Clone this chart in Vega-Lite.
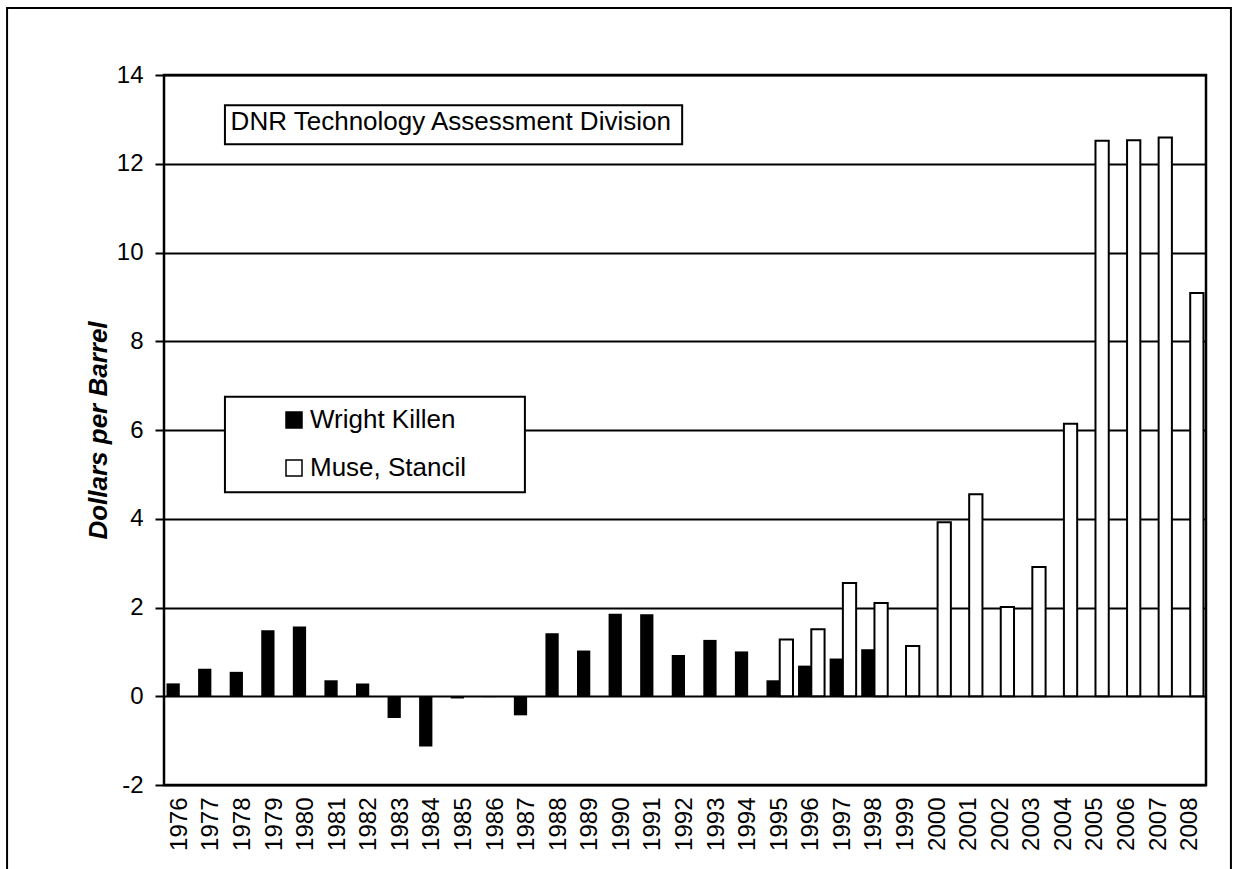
{
  "$schema": "https://vega.github.io/schema/vega-lite/v6.json",
  "width": 1042,
  "height": 710,
  "autosize": {"type": "none"},
  "padding": {"left": 164, "top": 75, "right": 27, "bottom": 84},
  "background": "white",
  "config": {
    "view": {"stroke": "black", "strokeWidth": 2.5},
    "font": "Liberation Sans",
    "text": {"font": "Liberation Sans"},
    "axisY": {"grid": true, "gridColor": "black", "gridWidth": 2, "gridOpacity": 1}
  },
  "resolve": {"scale": {"x": "independent"}},
  "layer": [
    {
      "data": {"values": [
        {"year": "1976", "series": "Wright Killen", "value": 0.29},
        {"year": "1977", "series": "Wright Killen", "value": 0.62},
        {"year": "1978", "series": "Wright Killen", "value": 0.55},
        {"year": "1979", "series": "Wright Killen", "value": 1.49},
        {"year": "1980", "series": "Wright Killen", "value": 1.57},
        {"year": "1981", "series": "Wright Killen", "value": 0.36},
        {"year": "1982", "series": "Wright Killen", "value": 0.29},
        {"year": "1983", "series": "Wright Killen", "value": -0.49},
        {"year": "1984", "series": "Wright Killen", "value": -1.13},
        {"year": "1985", "series": "Wright Killen", "value": -0.05},
        {"year": "1986", "series": "Wright Killen", "value": -0.02},
        {"year": "1987", "series": "Wright Killen", "value": -0.43},
        {"year": "1988", "series": "Wright Killen", "value": 1.42},
        {"year": "1989", "series": "Wright Killen", "value": 1.03},
        {"year": "1990", "series": "Wright Killen", "value": 1.86},
        {"year": "1991", "series": "Wright Killen", "value": 1.85},
        {"year": "1992", "series": "Wright Killen", "value": 0.93},
        {"year": "1993", "series": "Wright Killen", "value": 1.27},
        {"year": "1994", "series": "Wright Killen", "value": 1.01},
        {"year": "1995", "series": "Wright Killen", "value": 0.36},
        {"year": "1996", "series": "Wright Killen", "value": 0.69},
        {"year": "1997", "series": "Wright Killen", "value": 0.85},
        {"year": "1998", "series": "Wright Killen", "value": 1.06},
        {"year": "1995", "series": "Muse, Stancil", "value": 1.28},
        {"year": "1996", "series": "Muse, Stancil", "value": 1.51},
        {"year": "1997", "series": "Muse, Stancil", "value": 2.55},
        {"year": "1998", "series": "Muse, Stancil", "value": 2.1},
        {"year": "1999", "series": "Muse, Stancil", "value": 1.13},
        {"year": "2000", "series": "Muse, Stancil", "value": 3.92},
        {"year": "2001", "series": "Muse, Stancil", "value": 4.55},
        {"year": "2002", "series": "Muse, Stancil", "value": 2.01},
        {"year": "2003", "series": "Muse, Stancil", "value": 2.91},
        {"year": "2004", "series": "Muse, Stancil", "value": 6.14},
        {"year": "2005", "series": "Muse, Stancil", "value": 12.52},
        {"year": "2006", "series": "Muse, Stancil", "value": 12.53},
        {"year": "2007", "series": "Muse, Stancil", "value": 12.59},
        {"year": "2008", "series": "Muse, Stancil", "value": 9.09}
      ]},
      "mark": {"type": "bar", "stroke": "black"},
      "encoding": {
        "x": {
          "field": "year", "type": "ordinal",
          "scale": {"paddingInner": 0.16, "paddingOuter": 0.08},
          "axis": {"title": null, "labelAngle": -90, "labelFontSize": 24, "labelColor": "black", "labelFont": "Liberation Sans", "ticks": false, "domain": false, "labelPadding": 12, "grid": false}
        },
        "xOffset": {
          "field": "series", "type": "nominal",
          "scale": {"domain": ["Wright Killen", "Muse, Stancil"], "paddingInner": 0, "paddingOuter": 0}
        },
        "y": {
          "field": "value", "type": "quantitative",
          "scale": {"domain": [-2, 14], "nice": false, "zero": false},
          "axis": {
            "values": [-2, 0, 2, 4, 6, 8, 10, 12, 14],
            "labelExpr": "datum.value + ''",
            "title": "Dollars per Barrel",
            "titleFont": "Liberation Sans", "titleFontSize": 26, "titleFontWeight": "bold", "titleFontStyle": "italic", "titleColor": "black", "titlePadding": 5,
            "labelFont": "Liberation Sans", "labelFontSize": 24, "labelColor": "black", "labelPadding": 12,
            "tickColor": "black", "tickSize": 9, "tickWidth": 2,
            "grid": true, "gridColor": "black", "gridWidth": 2, "gridOpacity": 1,
            "domain": false
          }
        },
        "fill": {
          "field": "series", "type": "nominal",
          "scale": {"domain": ["Wright Killen", "Muse, Stancil"], "range": ["#000000", "#ffffff"]},
          "legend": {
            "orient": "none", "legendX": 117, "legendY": 332, "title": null,
            "labelFont": "Liberation Sans", "labelFontSize": 26, "labelColor": "black", "labelOffset": 3,
            "symbolType": "square", "symbolSize": 256, "symbolStrokeColor": "black", "symbolStrokeWidth": 1.5,
            "rowPadding": 22, "padding": 0
          }
        },
        "strokeWidth": {"condition": {"test": "datum.series === 'Muse, Stancil'", "value": 2}, "value": 0}
      }
    },
    {
      "data": {"values": [{}]},
      "mark": {"type": "rect", "fill": "transparent", "stroke": "black", "strokeWidth": 2},
      "encoding": {
        "x": {"datum": -4.97, "type": "quantitative", "scale": {"domain": [0, 33]}, "axis": null},
        "x2": {"datum": 33.79},
        "y": {"datum": 15.51, "type": "quantitative"},
        "y2": {"datum": -4.14}
      }
    },
    {
      "data": {"values": [{}]},
      "mark": {"type": "rect", "fill": "white", "stroke": "black", "strokeWidth": 2},
      "encoding": {
        "x": {"datum": 1.93, "type": "quantitative", "scale": {"domain": [0, 33]}, "axis": null},
        "x2": {"datum": 16.41},
        "y": {"datum": 13.32, "type": "quantitative"},
        "y2": {"datum": 12.44}
      }
    },
    {
      "data": {"values": [{"label": "DNR Technology Assessment Division"}]},
      "mark": {"type": "text", "align": "left", "baseline": "alphabetic", "fontSize": 26, "color": "black", "font": "Liberation Sans"},
      "encoding": {
        "x": {"datum": 2.11, "type": "quantitative", "scale": {"domain": [0, 33]}, "axis": null},
        "y": {"datum": 12.76, "type": "quantitative"},
        "text": {"field": "label", "type": "nominal"}
      }
    },
    {
      "data": {"values": [{}]},
      "mark": {"type": "rect", "fill": "white", "stroke": "black", "strokeWidth": 2},
      "encoding": {
        "x": {"datum": 1.93, "type": "quantitative", "scale": {"domain": [0, 33]}, "axis": null},
        "x2": {"datum": 11.43},
        "y": {"datum": 6.75, "type": "quantitative"},
        "y2": {"datum": 4.6}
      }
    }
  ]
}
